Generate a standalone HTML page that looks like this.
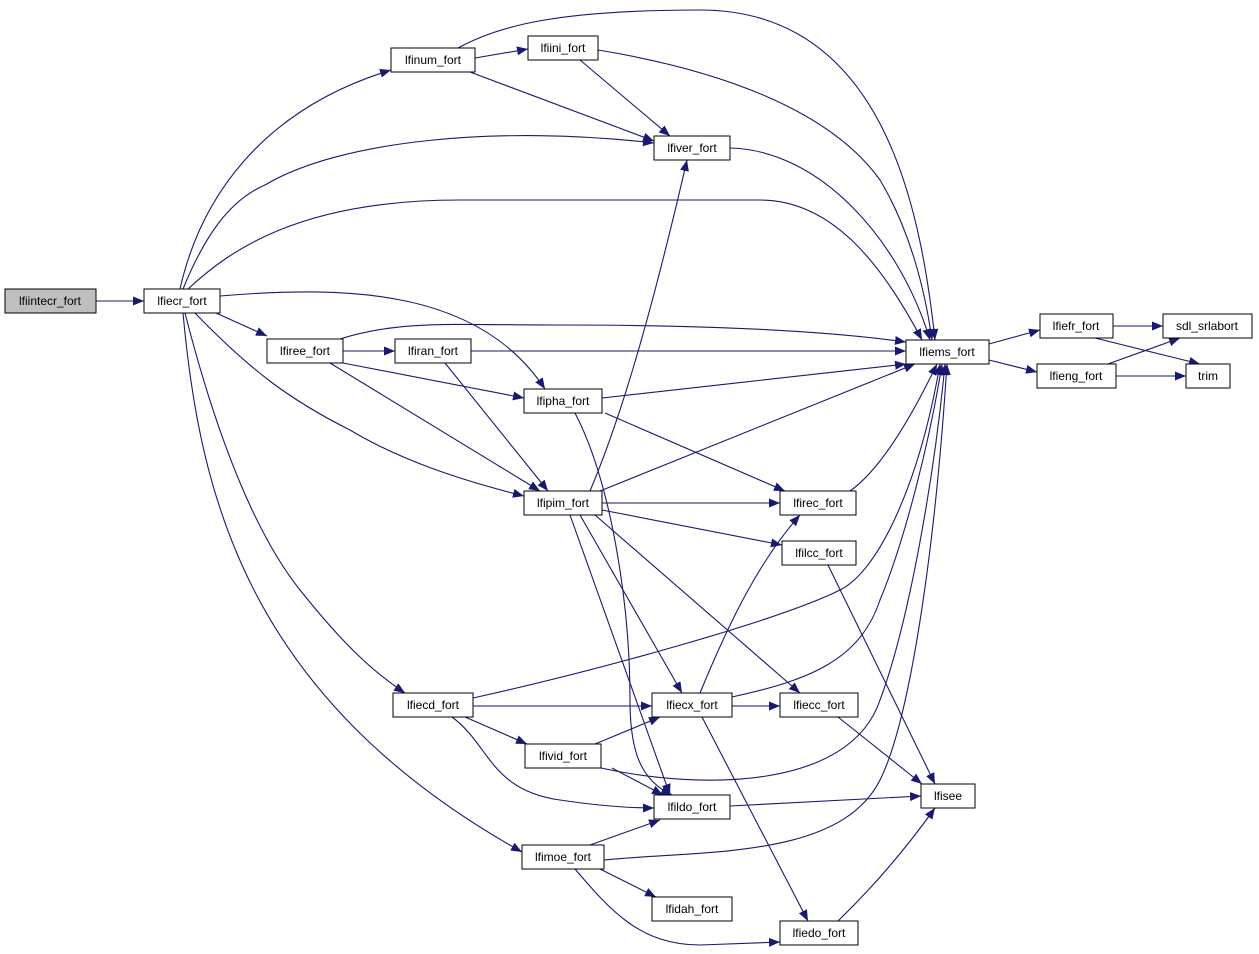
<!DOCTYPE html>
<html><head><style>
body{margin:0;background:#fff;}
svg{display:block;}
text{font-family:"Liberation Sans",sans-serif;font-size:12px;text-anchor:middle;fill:#000;}
rect{fill:#fff;stroke:#000;stroke-width:1;}
path{fill:none;stroke:#191970;stroke-width:1.1;}
</style></head><body>
<svg width="1259" height="954" viewBox="0 0 1259 954" xmlns="http://www.w3.org/2000/svg">
<defs><marker id="a" markerUnits="userSpaceOnUse" markerWidth="12" markerHeight="10" refX="11" refY="4.5" orient="auto"><polygon points="0,0 11,4.5 0,9" fill="#191970"/></marker></defs>
<g marker-end="url(#a)">
<path d="M96,301 L144,301"/>
<path d="M180,289 C200,200 260,110 391,70"/>
<path d="M183,289 C205,235 230,200 265,185 C340,140 500,125 654,143"/>
<path d="M188,289 C230,250 300,200 460,200 L760,200 C830,200 880,260 922,340"/>
<path d="M220,296 C350,285 480,290 545,389"/>
<path d="M216,313 L267,336"/>
<path d="M195,313 C250,370 290,400 350,430 C400,460 460,480 524,496"/>
<path d="M185,313 C220,450 260,540 300,590 C340,640 370,670 405,693"/>
<path d="M183,313 C200,500 250,700 522,852"/>
<path d="M475,58 L528,49"/>
<path d="M458,48 C500,25 560,10 700,10 C880,10 920,200 935,340"/>
<path d="M470,72 L654,141"/>
<path d="M580,60 L670,136"/>
<path d="M598,50 C720,70 830,110 880,180 C910,230 925,290 932,340"/>
<path d="M730,148 C820,150 900,240 930,340"/>
<path d="M343,351 L395,351"/>
<path d="M340,339 C400,320 450,325 560,325 C700,325 820,330 906,342"/>
<path d="M343,363 L524,398"/>
<path d="M330,363 L540,491"/>
<path d="M471,351 L906,351"/>
<path d="M445,363 L548,491"/>
<path d="M602,398 L906,364"/>
<path d="M605,413 L785,491"/>
<path d="M575,413 C610,480 630,600 630,700 C630,750 640,780 672,795"/>
<path d="M590,491 C620,420 650,320 687,160"/>
<path d="M600,491 L915,364"/>
<path d="M602,503 L780,503"/>
<path d="M602,510 L782,545"/>
<path d="M580,515 L682,693"/>
<path d="M595,515 L800,693"/>
<path d="M570,515 L670,795"/>
<path d="M850,491 C880,470 910,420 937,364"/>
<path d="M828,565 L935,784"/>
<path d="M473,706 L652,706"/>
<path d="M473,698 C600,670 780,620 840,590 C880,570 920,480 940,364"/>
<path d="M465,717 L527,744"/>
<path d="M452,717 C490,745 490,790 560,800 C600,806 630,808 654,808"/>
<path d="M700,693 C730,620 760,560 800,515"/>
<path d="M732,697 C810,680 860,660 880,600 C905,540 930,440 942,364"/>
<path d="M732,706 L780,706"/>
<path d="M702,717 L808,921"/>
<path d="M595,744 L660,717"/>
<path d="M612,768 L663,795"/>
<path d="M601,768 C700,790 850,790 880,700 C910,620 935,470 945,364"/>
<path d="M838,717 L922,784"/>
<path d="M730,806 L921,796"/>
<path d="M590,845 L660,820"/>
<path d="M604,860 C700,850 840,860 880,780 C910,720 935,550 947,364"/>
<path d="M600,869 L656,897"/>
<path d="M575,869 C610,910 640,945 700,945 L780,942"/>
<path d="M838,921 C870,890 905,850 935,808"/>
<path d="M989,344 L1040,330"/>
<path d="M989,360 L1037,372"/>
<path d="M1113,326 L1163,326"/>
<path d="M1095,338 L1200,364"/>
<path d="M1108,364 L1180,338"/>
<path d="M1116,376 L1186,376"/>
</g>
<rect x="5" y="289" width="91" height="24" style="fill:#bfbfbf"/><text x="50" y="305">lfiintecr_fort</text>
<rect x="144" y="289" width="76" height="24"/><text x="182" y="305">lfiecr_fort</text>
<rect x="391" y="48" width="84" height="24"/><text x="433" y="64">lfinum_fort</text>
<rect x="528" y="36" width="70" height="24"/><text x="563" y="52">lfiini_fort</text>
<rect x="654" y="136" width="76" height="24"/><text x="692" y="152">lfiver_fort</text>
<rect x="906" y="340" width="83" height="24"/><text x="947" y="356">lfiems_fort</text>
<rect x="1040" y="314" width="73" height="24"/><text x="1076" y="330">lfiefr_fort</text>
<rect x="1037" y="364" width="79" height="24"/><text x="1076" y="380">lfieng_fort</text>
<rect x="1163" y="314" width="89" height="24"/><text x="1207" y="330">sdl_srlabort</text>
<rect x="1186" y="364" width="44" height="24"/><text x="1208" y="380">trim</text>
<rect x="267" y="339" width="76" height="24"/><text x="305" y="355">lfiree_fort</text>
<rect x="395" y="339" width="76" height="24"/><text x="433" y="355">lfiran_fort</text>
<rect x="524" y="389" width="78" height="24"/><text x="563" y="405">lfipha_fort</text>
<rect x="524" y="491" width="78" height="24"/><text x="563" y="507">lfipim_fort</text>
<rect x="780" y="491" width="76" height="24"/><text x="818" y="507">lfirec_fort</text>
<rect x="782" y="541" width="74" height="24"/><text x="819" y="557">lfilcc_fort</text>
<rect x="393" y="693" width="80" height="24"/><text x="433" y="709">lfiecd_fort</text>
<rect x="652" y="693" width="80" height="24"/><text x="692" y="709">lfiecx_fort</text>
<rect x="780" y="693" width="78" height="24"/><text x="819" y="709">lfiecc_fort</text>
<rect x="525" y="744" width="76" height="24"/><text x="563" y="760">lfivid_fort</text>
<rect x="654" y="795" width="76" height="24"/><text x="692" y="811">lfildo_fort</text>
<rect x="921" y="784" width="54" height="24"/><text x="948" y="800">lfisee</text>
<rect x="522" y="845" width="82" height="24"/><text x="563" y="861">lfimoe_fort</text>
<rect x="652" y="897" width="80" height="24"/><text x="692" y="913">lfidah_fort</text>
<rect x="780" y="921" width="78" height="24"/><text x="819" y="937">lfiedo_fort</text>
</svg>
</body></html>
